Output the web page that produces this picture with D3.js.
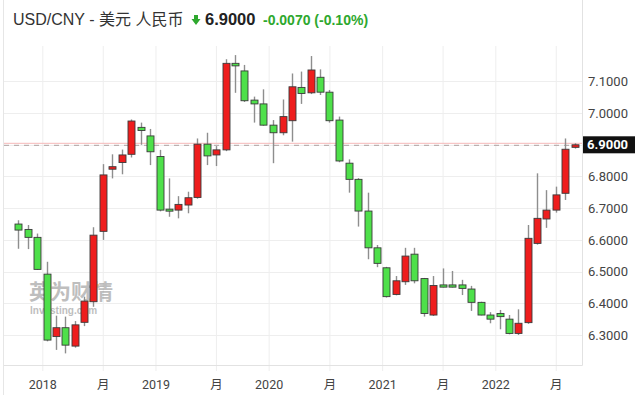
<!DOCTYPE html>
<meta charset="utf-8">
<head>
  <title>USD/CNY monthly</title>
</head>

<style>
  body {
    margin: 0;
    background: #fff;
    font-family: "Liberation Sans", Arial, "Noto Sans CJK SC", sans-serif;
  }
  .axis path { display: none; }
  .axis text { fill: #444; font-size: 12.5px; font-family: Roboto, "Noto Sans CJK SC", sans-serif; }
  .grid line { stroke: #eeeeee; }
</style>

<body>
<svg width="640" height="395"></svg>

<script src="https://cdnjs.cloudflare.com/ajax/libs/d3/7.8.5/d3.min.js"></script>
<script>
  // monthly candles, Oct 2017 .. Sep 2022
  var months = [
    "2017-10", "2017-11", "2017-12",
    "2018-01", "2018-02", "2018-03", "2018-04", "2018-05", "2018-06", "2018-07", "2018-08", "2018-09", "2018-10", "2018-11", "2018-12",
    "2019-01", "2019-02", "2019-03", "2019-04", "2019-05", "2019-06", "2019-07", "2019-08", "2019-09", "2019-10", "2019-11", "2019-12",
    "2020-01", "2020-02", "2020-03", "2020-04", "2020-05", "2020-06", "2020-07", "2020-08", "2020-09", "2020-10", "2020-11", "2020-12",
    "2021-01", "2021-02", "2021-03", "2021-04", "2021-05", "2021-06", "2021-07", "2021-08", "2021-09", "2021-10", "2021-11", "2021-12",
    "2022-01", "2022-02", "2022-03", "2022-04", "2022-05", "2022-06", "2022-07", "2022-08", "2022-09"
  ];
  var open = [
    6.650, 6.633, 6.608,
    6.492, 6.295, 6.323, 6.265, 6.340, 6.405, 6.627, 6.823, 6.844, 6.870, 6.955, 6.928,
    6.863, 6.697, 6.694, 6.710, 6.734, 6.902, 6.868, 6.884, 7.157, 7.133, 7.041, 7.029,
    6.962, 6.938, 6.976, 7.081, 7.064, 7.113, 7.066, 6.978, 6.842, 6.791, 6.691, 6.575,
    6.512, 6.428, 6.468, 6.555, 6.478, 6.363, 6.458, 6.458, 6.458, 6.445, 6.403, 6.363,
    6.368, 6.350, 6.305, 6.339, 6.589, 6.666, 6.694, 6.747, 6.892
  ];
  var high = [
    6.662, 6.647, 6.620,
    6.531, 6.361, 6.358, 6.344, 6.421, 6.640, 6.839, 6.870, 6.885, 6.980, 6.970, 6.950,
    6.884, 6.794, 6.738, 6.752, 6.920, 6.938, 6.896, 7.170, 7.183, 7.152, 7.052, 7.075,
    6.978, 7.043, 7.125, 7.131, 7.180, 7.138, 7.073, 6.989, 6.854, 6.795, 6.749, 6.584,
    6.515, 6.486, 6.575, 6.575, 6.480, 6.486, 6.510, 6.502, 6.474, 6.455, 6.405, 6.372,
    6.379, 6.363, 6.381, 6.647, 6.810, 6.757, 6.768, 6.920, 6.905
  ];
  var low = [
    6.572, 6.571, 6.505,
    6.280, 6.253, 6.242, 6.260, 6.328, 6.389, 6.600, 6.794, 6.807, 6.860, 6.900, 6.836,
    6.690, 6.673, 6.668, 6.684, 6.730, 6.836, 6.833, 6.880, 7.064, 7.035, 6.970, 6.960,
    6.842, 6.930, 6.910, 7.029, 7.060, 7.057, 6.970, 6.845, 6.749, 6.642, 6.539, 6.514,
    6.418, 6.425, 6.458, 6.463, 6.358, 6.360, 6.450, 6.450, 6.426, 6.376, 6.362, 6.337,
    6.318, 6.302, 6.300, 6.335, 6.585, 6.638, 6.686, 6.726, 6.888
  ];
  var close = [
    6.631, 6.608, 6.507,
    6.284, 6.323, 6.268, 6.332, 6.407, 6.615, 6.805, 6.831, 6.868, 6.975, 6.945, 6.878,
    6.694, 6.691, 6.712, 6.733, 6.902, 6.865, 6.884, 7.157, 7.149, 7.039, 7.029, 6.962,
    6.938, 6.989, 7.083, 7.062, 7.136, 7.066, 6.976, 6.849, 6.791, 6.691, 6.575, 6.526,
    6.421, 6.471, 6.549, 6.471, 6.368, 6.456, 6.451, 6.451, 6.447, 6.403, 6.363, 6.350,
    6.358, 6.305, 6.337, 6.605, 6.668, 6.694, 6.742, 6.886, 6.900
  ];

  var yTicks = [6.3, 6.4, 6.5, 6.6, 6.7, 6.8, 6.9, 7.0, 7.1];
  var xTickDates = ["2018-01-01", "2018-07-15", "2019-01-01", "2019-07-15", "2020-01-01",
                    "2020-07-15", "2021-01-01", "2021-07-15", "2022-01-01", "2022-07-15"];
  var xTickLabels = ["2018", "月", "2019", "月", "2020", "月", "2021", "月", "2022", "月"];

  var lastPrice = 6.9;
  var titleText = "USD/CNY - 美元 人民币";
  var priceText = "6.9000";
  var changeText = "-0.0070 (-0.10%)";

  var parseDay = d3.timeParse("%Y-%m-%d");
  var candles = months.map(function(m, i) {
    return {
      date: parseDay(m + "-15"),
      open: open[i], high: high[i], low: low[i], close: close[i]
    };
  });

  var plotLeft = 4, plotRight = 582, plotTop = 40, plotBottom = 365;

  var x = d3.scaleTime()
    .domain([parseDay("2018-01-01"), parseDay("2022-01-01")])
    .range([42.3, 495.3]);

  var y = d3.scaleLinear()
    .domain([6.3, 7.1])
    .range([335, 81.4]);

  var svg = d3.select("svg");

  // page edge line
  svg.append("line")
    .attr("x1", 3.5).attr("x2", 3.5)
    .attr("y1", 0).attr("y2", 395)
    .attr("stroke", "#e6e6e6");

  // horizontal grid
  svg.append("g")
    .attr("class", "grid")
    .selectAll("line")
    .data(yTicks)
    .enter()
    .append("line")
    .attr("x1", plotLeft)
    .attr("x2", plotRight)
    .attr("y1", function(d) { return Math.round(y(d)) + 0.5; })
    .attr("y2", function(d) { return Math.round(y(d)) + 0.5; });

  // x axis with vertical grid
  var xAxis = d3.axisBottom(x)
    .tickValues(xTickDates.map(parseDay))
    .tickFormat(function(d, i) { return xTickLabels[i]; })
    .tickSize(-(plotBottom - plotTop))
    .tickSizeOuter(0)
    .tickPadding(9);

  var gx = svg.append("g")
    .attr("class", "axis")
    .attr("transform", "translate(0," + (plotBottom + 6) + ")")
    .call(xAxis);
  gx.selectAll(".tick line").attr("stroke", "#eeeeee");

  // frame, right and bottom
  svg.append("line")
    .attr("x1", plotLeft).attr("x2", plotRight + 0.5)
    .attr("y1", plotBottom + 0.5).attr("y2", plotBottom + 0.5)
    .attr("stroke", "#e2e2e2");
  svg.append("line")
    .attr("x1", plotRight + 0.5).attr("x2", plotRight + 0.5)
    .attr("y1", 0).attr("y2", plotBottom + 0.5)
    .attr("stroke", "#e2e2e2");

  // y axis
  var yAxis = d3.axisRight(y)
    .tickValues(yTicks)
    .tickFormat(d3.format(".4f"))
    .tickSize(0)
    .tickPadding(6);

  var gy = svg.append("g")
    .attr("class", "axis")
    .attr("transform", "translate(" + plotRight + ",0)")
    .call(yAxis);
  gy.selectAll("text").style("font-size", "13px");

  // watermark
  var wm = svg.append("g").attr("opacity", 0.55);
  wm.append("text")
    .attr("x", 29).attr("y", 299)
    .attr("font-size", 21)
    .attr("font-weight", "bold")
    .attr("font-family", "'Noto Sans CJK SC', sans-serif")
    .attr("fill", "#8a8a8a")
    .text("英为财情");
  wm.append("path")
    .attr("d", "M88,302 L96,284 L99,284 L91,302 Z")
    .attr("fill", "#f0a030");
  wm.append("text")
    .attr("x", 30).attr("y", 314)
    .attr("font-size", 10)
    .attr("font-weight", "bold")
    .attr("fill", "#8a8a8a")
    .text("Investing.com");

  // last price line
  svg.append("line")
    .attr("x1", plotLeft).attr("x2", plotRight)
    .attr("y1", y(lastPrice) - 1.5).attr("y2", y(lastPrice) - 1.5)
    .attr("stroke", "#f5b8b8");
  svg.append("line")
    .attr("x1", plotLeft).attr("x2", plotRight)
    .attr("y1", y(lastPrice) + 0.5).attr("y2", y(lastPrice) + 0.5)
    .attr("stroke", "#b0a0a0")
    .attr("stroke-dasharray", "5,5");

  // candles
  var bodyW = 7;
  var g = svg.append("g");

  g.selectAll("line.wick")
    .data(candles)
    .enter()
    .append("line")
    .attr("class", "wick")
    .attr("x1", function(d) { return Math.round(x(d.date)) + 0.5; })
    .attr("x2", function(d) { return Math.round(x(d.date)) + 0.5; })
    .attr("y1", function(d) { return y(d.high); })
    .attr("y2", function(d) { return y(d.low); })
    .attr("stroke", "#8e8e8e")
    .attr("stroke-width", 1.4);

  g.selectAll("rect.body")
    .data(candles)
    .enter()
    .append("rect")
    .attr("class", "body")
    .attr("x", function(d) { return Math.round(x(d.date)) + 0.5 - bodyW / 2; })
    .attr("y", function(d) { return y(Math.max(d.open, d.close)); })
    .attr("width", bodyW)
    .attr("height", function(d) { return Math.max(2, Math.abs(y(d.open) - y(d.close))); })
    .attr("fill", function(d) { return d.close >= d.open ? "#ee1d1d" : "#4ee04a"; })
    .attr("stroke", "#3a3a3a")
    .attr("stroke-width", 0.9);

  // last price tag
  svg.append("rect")
    .attr("x", plotRight + 1).attr("y", y(lastPrice) - 8.5)
    .attr("width", 52).attr("height", 17)
    .attr("fill", "#111");
  svg.append("text")
    .attr("x", plotRight + 5).attr("y", y(lastPrice) + 4.5)
    .attr("font-size", 13)
    .attr("font-weight", "bold")
    .attr("font-family", "Roboto, sans-serif")
    .attr("fill", "#fff")
    .text(d3.format(".4f")(lastPrice));

  // header
  svg.append("text")
    .attr("x", 13).attr("y", 25)
    .attr("font-size", 16)
    .attr("fill", "#333")
    .text(titleText);
  svg.append("path")
    .attr("d", "M194,15 L198,15 L198,19 L200.5,19 L196,25 L191.5,19 L194,19 Z")
    .attr("fill", "#2ea82e");
  svg.append("text")
    .attr("x", 205).attr("y", 25)
    .attr("font-size", 16.5)
    .attr("font-weight", "bold")
    .attr("fill", "#222")
    .text(priceText);
  svg.append("text")
    .attr("x", 263).attr("y", 25)
    .attr("font-size", 14)
    .attr("font-weight", "bold")
    .attr("fill", "#2ea82e")
    .text(changeText);
</script>
</body>
</html>
